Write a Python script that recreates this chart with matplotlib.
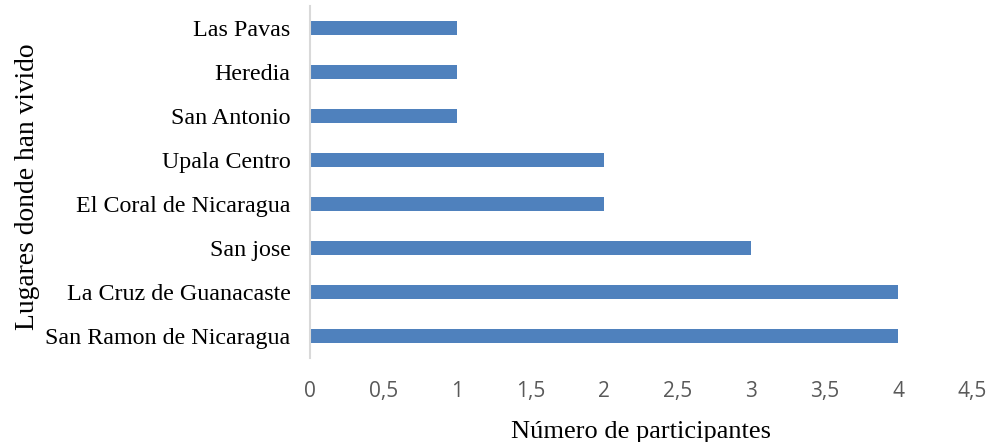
import matplotlib
matplotlib.use("Agg")
import matplotlib.pyplot as plt

categories = ["San Ramon de Nicaragua", "La Cruz de Guanacaste", "San jose",
              "El Coral de Nicaragua", "Upala Centro", "San Antonio", "Heredia", "Las Pavas"]
values = [4, 4, 3, 2, 2, 1, 1, 1]
xticks = [0, 0.5, 1, 1.5, 2, 2.5, 3, 3.5, 4, 4.5]
xticklabels = ["0", "0,5", "1", "1,5", "2", "2,5", "3", "3,5", "4", "4,5"]

fig = plt.figure(figsize=(9.9, 4.42), dpi=100)
ax = fig.add_axes([0.3131, 0.19, 0.6687, 0.7964])
ypos = list(range(len(categories)))
ax.barh(ypos, values, height=0.32, color="#4F81BD", zorder=2)
ax.set_ylim(-0.5, len(categories) - 0.5)
ax.set_xlim(0, 4.5)
ax.set_yticks(ypos)
ax.set_yticklabels(categories, fontfamily="Liberation Serif", fontsize=17.3, color="#000000")
ax.set_xticks(xticks)
ax.set_xticklabels(xticklabels, fontfamily="Open Sans", fontsize=15, color="#595959")
ax.tick_params(axis="both", length=0)
ax.tick_params(axis="y", pad=14)
ax.tick_params(axis="x", pad=16.5)
for s in ["top", "right", "bottom"]:
    ax.spines[s].set_visible(False)
ax.spines["left"].set_color("#D9D9D9")
ax.spines["left"].set_linewidth(1.5)
ax.set_xlabel("Número de participantes", fontfamily="Liberation Serif", fontsize=19, labelpad=14)
ax.set_ylabel("Lugares donde han vivido", fontfamily="Liberation Serif", fontsize=19.8, labelpad=4)
ax.yaxis.label.set_y(0.487)
fig.savefig("out.png", dpi=100)
